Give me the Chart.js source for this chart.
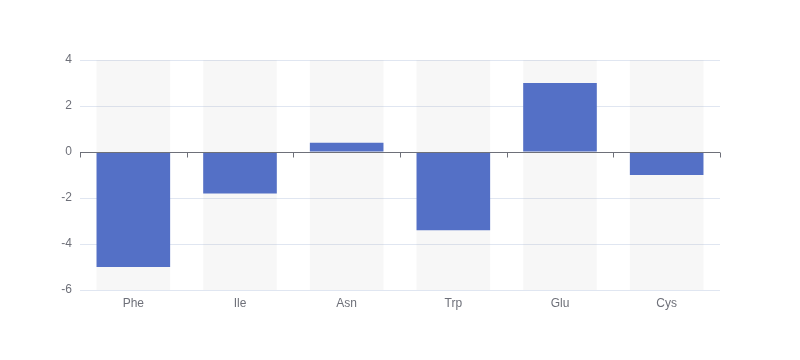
<!DOCTYPE html>
<html>
<head>
<meta charset="utf-8">
<script src="https://cdn.jsdelivr.net/npm/chart.js@4/dist/chart.umd.min.js"></script>
<style>
  html, body { margin: 0; padding: 0; background: #fff; }
  #wrap { width: 800px; height: 360px; }
</style>
</head>
<body>
<div id="wrap"><canvas id="barChart" width="800" height="360"></canvas></div>
<script>
const categories = ['Phe', 'Ile', 'Asn', 'Trp', 'Glu', 'Cys'];
const values = [-5, -1.8, 0.4, -3.4, 3, -1];
const yMin = -6;
const yMax = 4;
const yStep = 2;

// grey background column behind every bar
const shadow = categories.map(() => [yMin, yMax]);

// axis line drawn at zero, with ticks between categories
const zeroAxis = {
  id: 'zeroAxis',
  afterDatasetsDraw(chart) {
    const { ctx, chartArea, scales: { x, y } } = chart;
    const y0 = Math.round(y.getPixelForValue(0)) + 0.5;
    const half = (x.getPixelForValue(1) - x.getPixelForValue(0)) / 2;
    ctx.save();
    ctx.strokeStyle = '#6E7079';
    ctx.lineWidth = 1;
    ctx.beginPath();
    ctx.moveTo(chartArea.left, y0);
    ctx.lineTo(chartArea.right, y0);
    for (let i = 0; i <= categories.length; i++) {
      const px = Math.round(x.getPixelForValue(0) - half + i * 2 * half) + 0.5;
      ctx.moveTo(px, y0);
      ctx.lineTo(px, y0 + 5);
    }
    ctx.stroke();
    ctx.restore();
  }
};

new Chart(document.getElementById('barChart'), {
  type: 'bar',
  data: {
    labels: categories,
    datasets: [
      {
        data: values,
        backgroundColor: '#5470c6',
        borderWidth: 0,
        grouped: false,
        order: 0,
        barPercentage: 0.69,
        categoryPercentage: 1
      },
      {
        data: shadow,
        backgroundColor: 'rgba(180,180,180,0.1)',
        borderWidth: 0,
        grouped: false,
        order: 1,
        barPercentage: 0.69,
        categoryPercentage: 1
      }
    ]
  },
  options: {
    responsive: false,
    animation: false,
    layout: { padding: { left: 0, right: 80, top: 60, bottom: 0 } },
    plugins: { legend: { display: false }, tooltip: { enabled: false } },
    scales: {
      x: {
        grid: { display: false, drawTicks: false },
        border: { display: false },
        ticks: { color: '#6E7079', font: { size: 12, family: 'sans-serif' }, padding: 6 },
        afterFit(scale) { scale.height = 70; }
      },
      y: {
        min: yMin,
        max: yMax,
        grid: { color: '#E0E6F1', drawTicks: false },
        border: { display: false },
        ticks: { stepSize: yStep, color: '#6E7079', font: { size: 12, family: 'sans-serif' }, padding: 8 },
        afterFit(scale) { scale.width = 80; }
      }
    }
  },
  plugins: [zeroAxis]
});
</script>
</body>
</html>
